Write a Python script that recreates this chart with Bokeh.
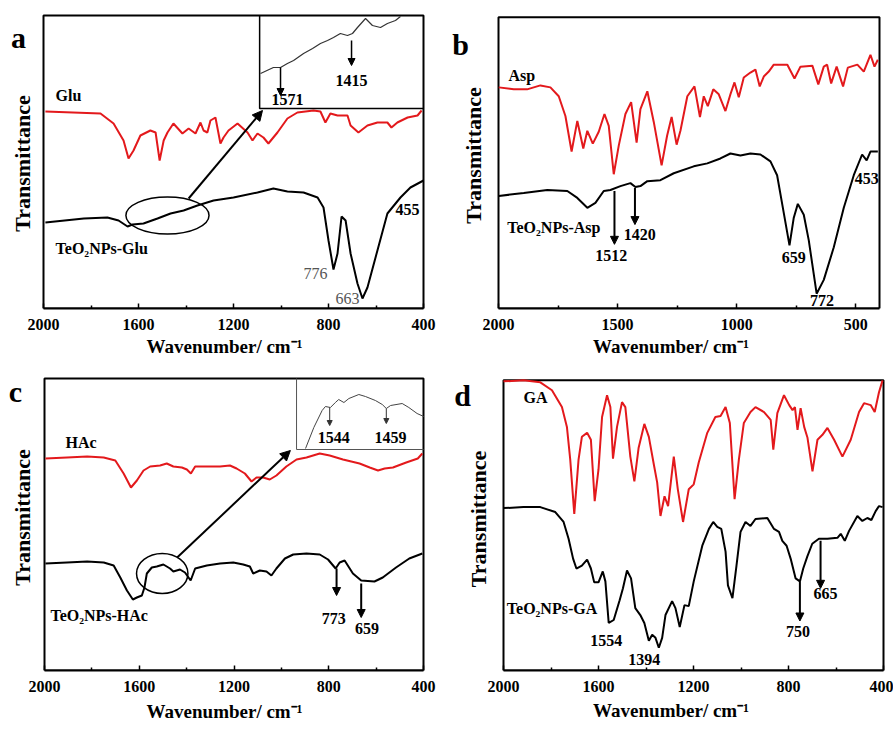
import math
from bokeh.plotting import figure
from bokeh.models import Range1d, FixedTicker, Arrow, NormalHead
from bokeh.layouts import column, row
from bokeh.embed import file_html
from bokeh.resources import INLINE
from bokeh.core.properties import value

FONT = "Liberation Serif"
RED = "#e3191c"

# ---------------- Panel a : Glu ----------------
a_glu_wn = [1992,1760,1705,1663,1642,1621,1592,1550,1528,1511,1494,1478,1453,1415,1389,1360,1339,1326,1310,1297,1276,1255,1242,1221,1183,1141,1120,1099,1074,1053,1015,973,931,863,834,813,792,762,720,707,674,636,594,552,535,510,467,425,408]
a_glu_t = [197,195,185,168,150,158,173,178,176,148,168,176,185,175,180,175,186,178,176,188,191,165,171,178,185,176,168,175,171,165,176,190,196,198,197,186,195,193,193,183,176,183,186,186,181,186,191,193,198]
a_teo2_wn = [1992,1830,1731,1684,1646,1625,1579,1520,1465,1410,1352,1284,1200,1099,1032,973,905,846,821,800,779,762,745,728,707,678,657,636,594,552,497,455,400]
a_teo2_t = [86,90,91,88,82,84,85,90,95,98,103,108,111,116,120,117,116,111,101,68,39,55,92,88,55,25,10,21,58,95,111,121,128]
a_inset_wn = [1086,1032,1002,973,947,905,867,834,804,779,750,720,699,678,644,615,581,552,518,497]
a_inset_t = [235,241,241,245,248,255,260,265,268,271,275,273,275,281,290,283,281,285,288,292]
a_inset_box = [1090, 200]
a_names = ["Glu", "TeO\u2082NPs-Glu"]
a_name_x = [1949, 1949]
a_name_y = [213, 60]
a_peaks = ["455", "1571", "1415"]
a_peak_x = [467, 973, 703]
a_peak_y = [99, 209, 228]
a_gray = ["776", "663"]
a_gray_x = [855, 720]
a_gray_y = [35, 10]
a_small_arrows = [(1002, 241, 213), (703, 268, 243)]
a_big_arrow = (1389, 110, 1078, 198)
a_ellipse = (1478, 93, 350, 37)

# ---------------- Panel b : Asp ----------------
b_asp_wn = [1999,1936,1880,1824,1782,1747,1719,1693,1669,1644,1627,1604,1579,1555,1537,1516,1495,1467,1443,1420,1404,1375,1348,1315,1292,1273,1252,1236,1207,1177,1154,1138,1121,1098,1075,1047,1026,1009,991,970,942,921,903,886,865,844,787,757,732,682,657,634,620,603,580,553,533,493,466,438,421,407]
b_asp_t = [224,222,222,226,224,215,195,159,190,162,180,167,179,197,185,136,165,197,209,168,202,220,189,145,175,194,166,180,215,225,194,215,205,222,217,200,217,229,214,234,239,242,225,235,240,247,247,233,245,246,227,245,247,228,245,225,244,247,240,257,245,252]
b_teo2_wn = [1999,1894,1795,1711,1669,1627,1593,1558,1530,1488,1446,1425,1404,1375,1320,1264,1180,1123,1068,1026,984,942,900,858,830,808,778,760,743,718,697,664,634,592,550,508,473,454,438,407]
b_teo2_t = [114,117,120,119,112,102,107,119,120,124,127,123,124,129,130,137,144,147,152,157,155,157,156,149,135,105,64,92,106,95,69,15,29,62,102,135,156,150,159,159]
b_names = ["Asp", "TeO\u2082NPs-Asp"]
b_name_x = [1958, 1963]
b_name_y = [236, 82]
b_peaks = ["1512", "1420", "659", "772", "453"]
b_peak_x = [1527, 1407, 760, 641, 454]
b_peak_y = [54, 75, 52, 8, 132]
b_arrows = [(1513, 119, 65), (1427, 122, 85)]

# ---------------- Panel c : HAc ----------------
c_hac_wn = [1996,1905,1820,1750,1701,1666,1635,1610,1582,1554,1512,1484,1456,1420,1399,1382,1364,1315,1259,1217,1189,1154,1126,1105,1077,1049,1021,979,936,894,838,796,740,670,627,592,564,529,473,424,405]
c_hac_t = [212,213,214,213,210,197,183,190,200,204,205,207,204,203,201,197,204,204,204,205,202,197,189,193,193,191,195,204,211,213,217,215,211,207,203,200,202,203,208,212,217]
c_teo2_wn = [1996,1905,1820,1750,1708,1680,1652,1627,1610,1589,1578,1568,1547,1526,1498,1470,1456,1428,1407,1383,1364,1315,1259,1203,1161,1133,1119,1091,1063,1042,1021,985,950,894,838,803,771,754,733,698,663,607,572,516,460,405]
c_teo2_t = [107,108,109,108,105,93,80,71,73,75,83,97,103,104,106,102,99,101,98,90,102,105,107,108,106,104,97,100,99,95,102,112,116,117,116,111,102,108,110,97,90,89,93,103,112,117]
c_inset_wn = [898,863,828,814,793,772,758,736,715,673,645,603,574,557,539,490,462,427,399]
c_inset_t = [222,243,260,264,263,268,271,268,272,276,274,270,266,262,265,267,263,257,254]
c_inset_box = [936, 221]
c_names = ["HAc", "TeO\u2082NPs-HAc"]
c_name_x = [1911, 1975]
c_name_y = [228, 55]
c_peaks = ["773", "659", "1544", "1459"]
c_peak_x = [779, 638, 779, 539]
c_peak_y = [52, 42, 233, 233]
c_arrows = [(767, 102, 75), (663, 87, 53)]
c_small_arrows = [(796, 263, 245), (557, 262, 247)]
c_big_arrow = (1440, 113, 962, 220)
c_ellipse = (1503, 97, 217, 40)

# ---------------- Panel d : GA ----------------
d_ga_wn = [2000,1916,1845,1796,1754,1733,1719,1702,1684,1670,1648,1632,1616,1600,1585,1564,1550,1539,1522,1501,1487,1466,1449,1431,1407,1388,1367,1353,1339,1322,1307,1283,1266,1244,1220,1199,1178,1142,1108,1086,1065,1047,1027,1009,988,960,939,903,875,864,847,819,797,783,773,762,749,734,720,699,678,657,636,608,573,538,503,482,454,437,419,404]
d_ga_t = [292,293,291,283,266,246,213,158,213,236,240,233,171,203,256,278,266,214,246,271,266,216,191,225,249,236,208,190,156,176,166,216,183,150,183,188,210,240,256,257,266,250,173,213,250,261,266,261,253,223,260,278,268,263,266,243,265,246,235,201,233,238,245,233,216,233,261,270,268,261,281,293]
d_teo2_wn = [2000,1916,1845,1782,1747,1726,1707,1693,1670,1648,1632,1618,1600,1582,1571,1557,1536,1511,1497,1480,1463,1445,1424,1407,1388,1374,1360,1346,1332,1318,1290,1276,1258,1238,1220,1199,1163,1135,1117,1100,1083,1065,1055,1036,1019,1002,981,960,939,889,861,840,826,808,791,770,752,738,721,700,672,636,594,580,563,545,510,489,468,451,433,419,404]
d_teo2_t = [164,165,165,160,150,133,113,103,106,112,103,89,89,100,90,48,51,71,83,101,93,63,56,48,30,36,33,23,33,56,70,63,44,66,65,90,126,143,150,145,143,120,86,73,106,140,150,146,153,154,143,140,131,126,113,93,90,103,115,128,133,133,134,138,131,141,156,151,154,152,161,166,165]
d_names = ["GA", "TeO\u2082NPs-GA"]
d_name_x = [1916, 1986]
d_name_y = [276, 63]
d_peaks = ["1554", "1394", "750", "665"]
d_peak_x = [1567, 1407, 760, 644]
d_peak_y = [30, 11, 39, 78]
d_arrows = [(752, 90, 50), (665, 131, 83)]

ticks_400 = [2000, 1600, 1200, 800, 400]
minor_400 = [1800, 1400, 1000, 600]
ticks_500 = [2000, 1500, 1000, 500]
minor_500 = [1750, 1250, 750]
X_HI, X_LO = 2000, 400


def make_panel(ox, oy, W, H, L, R, T, B, ymax, majors, minors, title_standoff,
               letter, letter_px, ylab_px):
    """Figure whose plotting box (2000..400 x 0..ymax) sits at pixels L,R,T,B of the page."""
    s = (X_HI - X_LO) / (R - L)
    ys = ymax / (B - T)
    x_start = X_HI + (L - ox) * s
    x_end = X_LO - (ox + W - R) * s
    y_end = ymax + (T - oy) * ys
    bb = oy + H - B
    p = figure(width=W, height=H, x_range=Range1d(x_start, x_end), y_range=Range1d(0, y_end),
               output_backend="svg", toolbar_location=None, y_axis_location=None,
               min_border_left=0, min_border_right=0, min_border_top=0, min_border_bottom=bb)
    p.xgrid.visible = False
    p.ygrid.visible = False
    p.outline_line_color = None
    xa = p.xaxis[0]
    xa.bounds = (X_LO, X_HI)
    xa.ticker = FixedTicker(ticks=majors, minor_ticks=minors)
    xa.major_tick_in = 5
    xa.major_tick_out = 0
    xa.minor_tick_in = 3
    xa.minor_tick_out = 0
    xa.axis_line_width = 2
    xa.major_tick_line_width = 1.5
    xa.minor_tick_line_width = 1.5
    xa.major_label_text_font = FONT
    xa.major_label_text_font_style = "bold"
    xa.major_label_text_font_size = "16px"
    xa.major_label_text_color = "black"
    xa.major_label_standoff = 10
    xa.axis_label = "Wavenumber/ cm\u207b\u00b9"
    xa.axis_label_text_font = FONT
    xa.axis_label_text_font_style = "bold"
    xa.axis_label_text_font_size = "19px"
    xa.axis_label_text_color = "black"
    xa.axis_label_standoff = title_standoff
    # plotting box
    p.line([X_HI, X_LO, X_LO, X_HI, X_HI], [0, 0, ymax, ymax, 0], line_color="black", line_width=2)

    def px2x(px):
        return X_HI - (px - L) * s

    def py2y(py):
        return (B - py) * ys

    p.text(x=[px2x(ylab_px[0])], y=[py2y(ylab_px[1])], text=["Transmittance"], angle=math.pi / 2,
           text_font=value(FONT), text_font_style="bold", text_font_size="22px",
           text_color="black", text_align="center", text_baseline="middle")
    p.text(x=[px2x(letter_px[0])], y=[py2y(letter_px[1])], text=[letter],
           text_font=value(FONT), text_font_style="bold", text_font_size="30px",
           text_color="black", text_align="center", text_baseline="alphabetic")
    return p


def txt(p, labels, xs, ys, color="black", style="bold", size="16px", align="center"):
    p.text(x=xs, y=ys, text=labels, text_font=value(FONT), text_font_style=style,
           text_font_size=size, text_color=color, text_align=align, text_baseline="middle")


def down_arrows(p, arrows, size=8, width=2, color="black"):
    for x, y0, y1 in arrows:
        p.add_layout(Arrow(x_start=x, y_start=y0, x_end=x, y_end=y1, line_width=width,
                           line_color=color,
                           end=NormalHead(size=size, fill_color=color, line_color=color)))


def big_arrow(p, a):
    p.add_layout(Arrow(x_start=a[0], y_start=a[1], x_end=a[2], y_end=a[3], line_width=2,
                       end=NormalHead(size=10, fill_color="black")))


def ellipse(p, e):
    p.ellipse(x=[e[0]], y=[e[1]], width=[e[2]], height=[e[3]],
              fill_color=None, line_color="black", line_width=1.5)


# ---- a
pa = make_panel(0, 0, 448, 366, 43, 423, 15, 308, 293, ticks_400, minor_400, 3,
                "a", (18, 37), (22, 163))
pa.line(a_glu_wn, a_glu_t, line_color=RED, line_width=2)
pa.line(a_teo2_wn, a_teo2_t, line_color="black", line_width=2)
pa.line(a_inset_wn, a_inset_t, line_color="#333333", line_width=1.2)
pa.line([a_inset_box[0], a_inset_box[0], X_LO], [293, a_inset_box[1], a_inset_box[1]],
        line_color="black", line_width=1.5)
ellipse(pa, a_ellipse)
big_arrow(pa, a_big_arrow)
down_arrows(pa, a_small_arrows, size=7, width=1.5)
txt(pa, a_names, a_name_x, a_name_y, align="left")
txt(pa, a_peaks, a_peak_x, a_peak_y)
txt(pa, a_gray, a_gray_x, a_gray_y, color="#555555", style="normal")

# ---- b
pb = make_panel(448, 0, 445, 366, 498, 879, 17, 312, 295, ticks_500, minor_500, 3,
                "b", (460, 45), (473, 157))
pb.line(b_asp_wn, b_asp_t, line_color=RED, line_width=2)
pb.line(b_teo2_wn, b_teo2_t, line_color="black", line_width=2)
down_arrows(pb, b_arrows)
txt(pb, b_names, b_name_x, b_name_y, align="left")
txt(pb, b_peaks, b_peak_x, b_peak_y)

# ---- c
pc = make_panel(0, 366, 448, 362, 44, 423, 378, 670, 292, ticks_400, minor_400, 6,
                "c", (15, 391), (22, 517))
pc.line(c_hac_wn, c_hac_t, line_color=RED, line_width=2)
pc.line(c_teo2_wn, c_teo2_t, line_color="black", line_width=2)
pc.line(c_inset_wn, c_inset_t, line_color="#444444", line_width=1)
pc.line([c_inset_box[0], c_inset_box[0], X_LO], [292, c_inset_box[1], c_inset_box[1]],
        line_color="#555555", line_width=1)
ellipse(pc, c_ellipse)
big_arrow(pc, c_big_arrow)
down_arrows(pc, c_arrows)
down_arrows(pc, c_small_arrows, size=5, width=1, color="#333333")
txt(pc, c_names, c_name_x, c_name_y, align="left")
txt(pc, c_peaks, c_peak_x, c_peak_y)

# ---- d
pd_ = make_panel(448, 366, 445, 362, 503, 883, 380, 673, 293, ticks_400, minor_400, 5,
                 "d", (462, 395), (478, 520))
pd_.line(d_ga_wn, d_ga_t, line_color=RED, line_width=2)
pd_.line(d_teo2_wn, d_teo2_t, line_color="black", line_width=2)
down_arrows(pd_, d_arrows)
txt(pd_, d_names, d_name_x, d_name_y, align="left")
txt(pd_, d_peaks, d_peak_x, d_peak_y)

layout = column(row(pa, pb), row(pc, pd_))
open("out.html", "w").write(file_html(layout, INLINE))
